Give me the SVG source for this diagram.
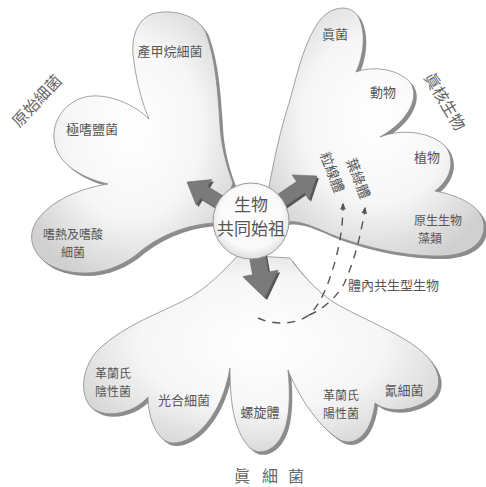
<svg xmlns="http://www.w3.org/2000/svg" width="486" height="487" viewBox="0 0 486 487">
<defs>
<radialGradient id="lobe" cx="50%" cy="45%" r="62%">
<stop offset="0" stop-color="#ffffff"/>
<stop offset="0.55" stop-color="#f6f6f6"/>
<stop offset="1" stop-color="#d0d0d0"/>
</radialGradient>
<radialGradient id="core" cx="50%" cy="45%" r="55%">
<stop offset="0" stop-color="#ffffff"/>
<stop offset="0.75" stop-color="#fafafa"/>
<stop offset="1" stop-color="#dedede"/>
</radialGradient>
<marker id="ah" viewBox="0 0 10 10" refX="8" refY="5" markerWidth="7" markerHeight="7" orient="auto" markerUnits="userSpaceOnUse">
<path d="M0,1 L10,5 L0,9 Z" fill="#555"/>
</marker>
</defs>
<style>
.shadow{fill:#8c8c8c;stroke:none}
.lobe{fill:url(#lobe);stroke:#8a8a8a;stroke-width:0.8}
.lbl{font-family:"Noto Sans CJK TC","Noto Sans CJK SC",sans-serif;font-size:13px;fill:#555;text-anchor:middle;dominant-baseline:central}
.two{font-size:12px}
.grp{font-family:"Noto Sans CJK TC","Noto Sans CJK SC",sans-serif;font-size:16px;fill:#666;text-anchor:middle;dominant-baseline:central}
.core{font-family:"Noto Sans CJK TC","Noto Sans CJK SC",sans-serif;font-size:17px;fill:#555;text-anchor:middle;dominant-baseline:central}
.arrow{fill:#7a7a7a;stroke:#666;stroke-width:0.6}
.arrowsh{fill:#555}
.dash{fill:none;stroke:#555;stroke-width:1.4;stroke-dasharray:8 7}
</style>

<g id="archaea">
<path class="shadow" transform="translate(3,3)" d="M 233,183 C 226,165 221,145 220,125 C 218,95 216,60 206,33 C 198,15 172,8 152,14 C 136,20 130,40 134,62 C 137,85 143,105 149,119 C 135,105 108,92 85,97 C 62,103 50,125 55,145 C 60,165 82,178 108,184 C 82,188 50,200 36,222 C 25,240 35,262 62,270 C 90,278 120,270 142,250 C 165,232 195,223 218,223 Z"/>
<path class="lobe" d="M 233,183 C 226,165 221,145 220,125 C 218,95 216,60 206,33 C 198,15 172,8 152,14 C 136,20 130,40 134,62 C 137,85 143,105 149,119 C 135,105 108,92 85,97 C 62,103 50,125 55,145 C 60,165 82,178 108,184 C 82,188 50,200 36,222 C 25,240 35,262 62,270 C 90,278 120,270 142,250 C 165,232 195,223 218,223 Z"/>
<text class="lbl" x="170" y="50">產甲烷細菌</text>
<text class="lbl" x="92" y="128">極嗜鹽菌</text>
<text class="lbl two" x="73" y="233.5">嗜熱及嗜酸</text>
<text class="lbl two" x="73" y="251.5">細菌</text>
<text class="grp" transform="translate(36,100) rotate(-47)" x="0" y="0">原始細菌</text>
</g>

<g id="eukaryota">
<path class="shadow" transform="translate(3,3)" d="M 268,192 C 273,165 280,130 290,100 C 298,70 305,40 320,20 C 332,5 352,4 359,18 C 366,33 364,55 356,72 C 372,66 396,68 410,82 C 420,96 410,120 380,137 C 402,128 432,132 446,147 C 456,162 450,180 435,191 C 462,196 484,208 484,226 C 484,246 465,256 438,256 C 400,256 360,246 330,234 C 312,226 298,220 286,222 Z"/>
<path class="lobe" d="M 268,192 C 273,165 280,130 290,100 C 298,70 305,40 320,20 C 332,5 352,4 359,18 C 366,33 364,55 356,72 C 372,66 396,68 410,82 C 420,96 410,120 380,137 C 402,128 432,132 446,147 C 456,162 450,180 435,191 C 462,196 484,208 484,226 C 484,246 465,256 438,256 C 400,256 360,246 330,234 C 312,226 298,220 286,222 Z"/>
<text class="lbl" x="335" y="33">眞菌</text>
<text class="lbl" x="383" y="91">動物</text>
<text class="lbl" x="427" y="156">植物</text>
<text class="lbl two" x="438" y="219.5">原生生物</text>
<text class="lbl two" x="430" y="237.5">藻類</text>
<text class="lbl" style="font-size:14px" transform="translate(333,172) rotate(69)" x="0" y="0">粒線體</text>
<text class="lbl" style="font-size:14px" transform="translate(359,178) rotate(69)" x="0" y="0">葉綠體</text>
<text class="grp" transform="translate(446,101) rotate(59)" x="0" y="0">眞核生物</text>
</g>

<g id="bacteria">
<path class="shadow" transform="translate(3,3)" d="M 238,255 C 225,270 205,290 185,300 C 160,313 125,325 100,348 C 82,365 78,395 92,408 C 108,420 135,412 148,397 C 148,420 158,442 172,443 C 195,444 222,415 230,368 C 230,395 232,430 250,448 C 262,458 280,448 286,425 C 290,410 290,390 288,370 C 296,390 315,425 340,440 C 358,448 372,430 375,403 C 390,415 420,410 434,395 C 445,380 435,362 420,350 C 400,333 360,318 335,303 C 315,290 300,272 290,258 Z"/>
<path class="lobe" d="M 238,255 C 225,270 205,290 185,300 C 160,313 125,325 100,348 C 82,365 78,395 92,408 C 108,420 135,412 148,397 C 148,420 158,442 172,443 C 195,444 222,415 230,368 C 230,395 232,430 250,448 C 262,458 280,448 286,425 C 290,410 290,390 288,370 C 296,390 315,425 340,440 C 358,448 372,430 375,403 C 390,415 420,410 434,395 C 445,380 435,362 420,350 C 400,333 360,318 335,303 C 315,290 300,272 290,258 Z"/>
<text class="lbl two" x="113" y="372.5">革蘭氏</text>
<text class="lbl two" x="113" y="390.5">陰性菌</text>
<text class="lbl" x="184" y="399">光合細菌</text>
<text class="lbl" x="260" y="411">螺旋體</text>
<text class="lbl two" x="341" y="394.5">革蘭氏</text>
<text class="lbl two" x="341" y="412.5">陽性菌</text>
<text class="lbl" x="404" y="389">氰細菌</text>
<text class="grp" x="242 270 296" y="475">眞細菌</text>
</g>

<g id="connectors">
<g transform="translate(2,2)">
<polygon class="arrowsh" points="187,182 196.3,205.2 200.5,198.4 221.8,211.4 229,199.4 207.7,186.4 211.9,179.6"/>
<polygon class="arrowsh" points="317,176 309,199.7 304.4,193.1 283.8,207.2 276,195.6 296.6,181.5 292.1,174.9"/>
<polygon class="arrowsh" points="265,298 242.8,276.6 252.6,274.8 248.7,253.2 264.5,250.4 268.4,272 278.2,270.2"/>
</g>
<polygon class="arrow" points="187,182 196.3,205.2 200.5,198.4 221.8,211.4 229,199.4 207.7,186.4 211.9,179.6"/>
<polygon class="arrow" points="317,176 309,199.7 304.4,193.1 283.8,207.2 276,195.6 296.6,181.5 292.1,174.9"/>
<polygon class="arrow" points="265,298 242.8,276.6 252.6,274.8 248.7,253.2 264.5,250.4 268.4,272 278.2,270.2"/>
<path class="dash" d="M 258,318 C 275,326 297,324 309,315 C 322,303 330,280 336,258 C 341,238 343,222 343,204" marker-end="url(#ah)"/>
<path class="dash" d="M 309,315 C 322,310 336,298 344,284 C 352,266 358,246 361,230 C 363,222 364,215 365,208" marker-end="url(#ah)"/>
</g>

<g id="ancestor">
<circle cx="251" cy="221" r="38" fill="url(#core)" stroke="#999" stroke-width="1"/>
<text class="core" x="251" y="203">生物</text>
<text class="core" x="251" y="227">共同始祖</text>
</g>

<text class="lbl" x="348" y="284" style="text-anchor:start">體內共生型生物</text>
</svg>
